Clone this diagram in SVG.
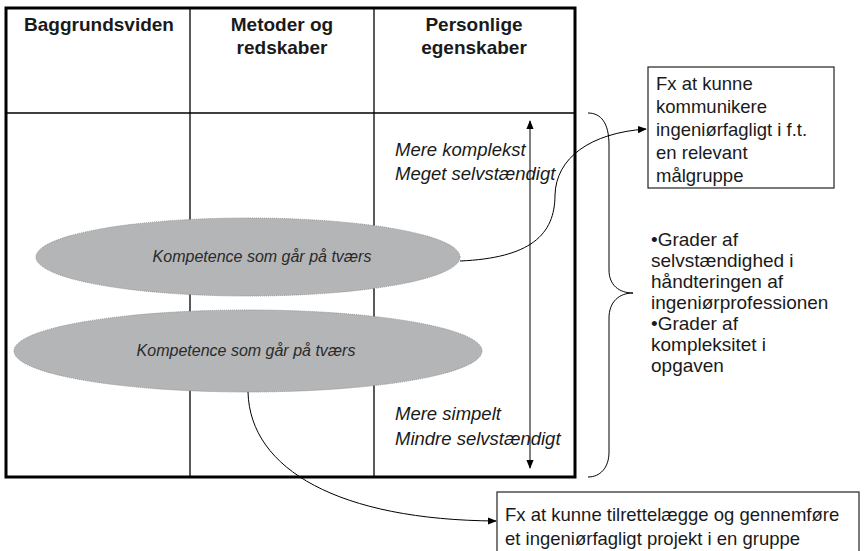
<svg xmlns="http://www.w3.org/2000/svg" width="864" height="551" viewBox="0 0 864 551">
<style>
text{font-family:"Liberation Sans",Arial,sans-serif;fill:#1a1a1a}
.hd{font-size:19px;font-weight:bold;text-anchor:middle}
.it{font-size:18.5px;font-style:italic}
.el{font-size:16px;font-style:italic;text-anchor:middle;fill:#2a2a2a}
.tx{font-size:18.5px}
.br{font-size:19px}
.grid{stroke:#000;stroke-width:1.3;fill:none}
.ell{fill:#b3b5b7;stroke:#8e9092;stroke-width:1;stroke-dasharray:1 1}
.con{stroke:#000;stroke-width:1;fill:none}
.box{fill:#fff;stroke:#222;stroke-width:1.2}
</style>
<defs>
<marker id="ah" viewBox="0 0 10 10" refX="9" refY="5" markerWidth="9" markerHeight="9" markerUnits="userSpaceOnUse" orient="auto-start-reverse">
<path d="M0,1 L10,5 L0,9 z" fill="#000"/>
</marker>
</defs>
<rect width="864" height="551" fill="#fff"/>
<g id="table">
<line class="grid" x1="190" y1="8" x2="190" y2="477"/>
<line class="grid" x1="374" y1="8" x2="374" y2="477"/>
<line class="grid" x1="6" y1="113" x2="575" y2="113"/>
<rect x="6" y="8" width="569" height="469" fill="none" stroke="#000" stroke-width="3"/>
<text class="hd" x="99" y="31">Baggrundsviden</text>
<text class="hd" x="282" y="31">Metoder og</text>
<text class="hd" x="282" y="54">redskaber</text>
<text class="hd" x="474" y="31">Personlige</text>
<text class="hd" x="474" y="54">egenskaber</text>
<text class="it" x="395" y="156">Mere komplekst</text>
<text class="it" x="395" y="180">Meget selvstændigt</text>
<text class="it" x="395" y="420">Mere simpelt</text>
<text class="it" x="395" y="445">Mindre selvstændigt</text>
</g>
<g id="scale">
<line class="con" x1="530" y1="121" x2="530" y2="468" marker-start="url(#ah)" marker-end="url(#ah)"/>
</g>
<g id="ellipse1">
<ellipse class="ell" cx="248" cy="257" rx="212" ry="39"/>
<text class="el" x="262" y="262">Kompetence som går på tværs</text>
</g>
<g id="ellipse2">
<ellipse class="ell" cx="248" cy="351" rx="234" ry="41"/>
<text class="el" x="246" y="356">Kompetence som går på tværs</text>
</g>
<g id="box1">
<rect class="box" x="648" y="67" width="186" height="121"/>
<text class="tx" x="656" y="90">Fx at kunne</text>
<text class="tx" x="656" y="113">kommunikere</text>
<text class="tx" x="656" y="136">ingeniørfagligt i f.t.</text>
<text class="tx" x="656" y="159">en relevant</text>
<text class="tx" x="656" y="182">målgruppe</text>
</g>
<g id="box2">
<rect class="box" x="497" y="492" width="362" height="70"/>
<text class="tx" x="505" y="521">Fx at kunne tilrettelægge og gennemføre</text>
<text class="tx" x="505" y="545">et ingeniørfagligt projekt i en gruppe</text>
</g>
<g id="brace-note">
<path class="con" d="M588,113 C601,113 609,123 609,145 L609,270 C609,285 619,293 633,293 C619,293 609,302 609,318 L609,452 C609,468 600,477 588,477"/>
<text class="br" x="651" y="246">•Grader af</text>
<text class="br" x="651" y="267">selvstændighed i</text>
<text class="br" x="651" y="288">håndteringen af</text>
<text class="br" x="651" y="309">ingeniørprofessionen</text>
<text class="br" x="651" y="330">•Grader af</text>
<text class="br" x="651" y="351">kompleksitet i</text>
<text class="br" x="651" y="372">opgaven</text>
</g>
<g id="connectors">
<path class="con" d="M460,261 C530,258 555,235 555,195 C556,158 590,133 646,129" marker-end="url(#ah)"/>
<path class="con" d="M248,392 C250,470 340,520 496,521" marker-end="url(#ah)"/>
</g>
</svg>
